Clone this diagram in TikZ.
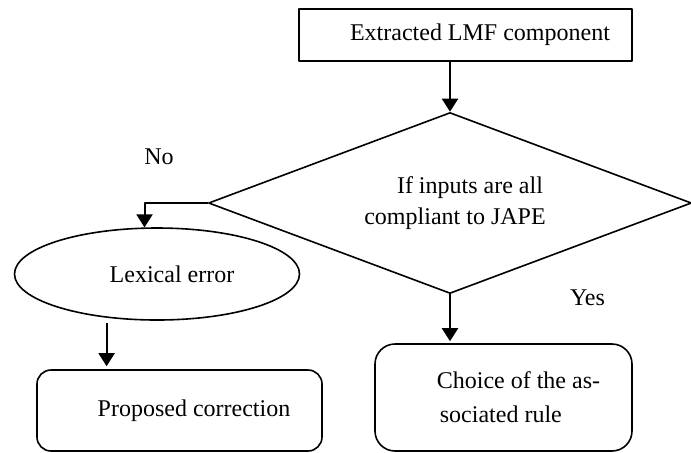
\documentclass[tikz,border=0pt]{standalone}
\usepackage{fontspec}
\setmainfont{Liberation Serif}
\usetikzlibrary{arrows.meta,calc,shapes.geometric}

\begin{document}
\begin{tikzpicture}[x=0.5pt,y=-0.5pt,>={Triangle[length=6.5pt,width=8pt]},line join=round,
  every node/.style={font=\fontsize{12}{15.5}\selectfont},
  outline/.style={draw,line width=0.8pt},
  flow/.style={->,line width=1pt}]
\useasboundingbox (0,0) rectangle (691,452);
% input block
\node[outline,rectangle,minimum width=166.5pt,minimum height=26pt] (extract) at (465.5,35) {\hspace*{14.5pt}Extracted LMF component};
% test
\node[outline,diamond,shape aspect=2.67,minimum width=241.5pt,minimum height=90.5pt,inner sep=0pt,align=center] (test) at (450,203)
  {\hspace*{20pt}If inputs are all\\\hspace*{5pt}compliant to JAPE};
% no branch
\node[outline,ellipse,minimum width=142.5pt,minimum height=46pt] (lexerr) at (157,274) {\hspace*{15pt}Lexical error};
\node[outline,rectangle,rounded corners=7pt,minimum width=142.5pt,minimum height=40.5pt] (correction) at (179.5,410.5) {\hspace*{14.5pt}Proposed correction};
% yes branch
\node[outline,rectangle,rounded corners=10pt,minimum width=128.5pt,minimum height=53.5pt,align=left] (rule) at (503.5,397.5)
  {\hspace*{15pt}Choice of the as-\\[1.5pt]\hspace*{16.5pt}sociated rule};
% branch labels
\node (no) at (159,157) {No};
\node (yes) at (587.5,298) {Yes};
% arrows
\draw[flow] (extract.south -| test.north) -- (test.north);
\draw[flow] (test.west) -| (lexerr.105);
\draw[flow,shorten <=2.5pt,shorten >=1.5pt] (lexerr.221) -- (lexerr.221 |- correction.north);
\draw[flow,shorten >=1pt] (test.south) -- (test.south |- rule.north);
\end{tikzpicture}
\end{document}
